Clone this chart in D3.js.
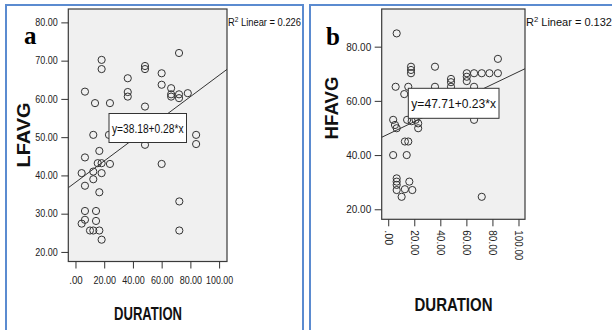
<!DOCTYPE html>
<html>
<head>
<meta charset="utf-8">
<script src="https://cdn.jsdelivr.net/npm/d3@7"></script>
<style>
  body { margin: 0; background: #fff; }
  svg { display: block; }
  .tick text { font-family: "Liberation Sans Narrow", "Arial Narrow", "Liberation Sans", sans-serif; fill: #222; }
  .tick line { stroke: #333; }
</style>
</head>
<body>
<svg id="chart" width="612" height="330"></svg>
<script>
// panel a: DURATION vs LFAVG
var durationA = [6.6, 18.2, 18.2, 13.6, 24, 36.4, 36.4, 36.4, 48.4, 48.4, 60, 60, 66.6, 66.6, 66.6,
  72.1, 72.1, 72.1, 78.2, 48.4, 12.4, 23.3, 84, 84, 48.4, 16.6, 6.6, 15.5, 18.2, 24, 18.2, 12.4,
  12.4, 4.3, 6.6, 16.6, 60, 72.3, 72.3, 6.6, 6.6, 4.3, 14.3, 14.3, 10.1, 12.4, 16.6, 18.2];
var lfavg = [61.9, 70.2, 67.8, 58.9, 58.9, 65.4, 61.8, 60.6, 68.6, 67.8, 66.7, 63.7, 62.8, 61.2, 60.6,
  72, 61.2, 60.2, 61.5, 58, 50.6, 50.6, 50.6, 48.2, 48, 46.4, 44.7, 43.2, 43.2, 43, 40.6, 41,
  39, 40.6, 37.3, 35.6, 43, 33.2, 25.6, 30.7, 28.4, 27.4, 30.7, 28.1, 25.6, 25.6, 25.6, 23.2];

// panel b: DURATION vs HFAVG
var durationB = [6.5, 17.5, 17.5, 17.5, 35.9, 5.7, 15.4, 12.3, 35.9, 48.2, 48.2, 48.2, 60.3, 60.3, 60.3,
  65.9, 71.8, 77.7, 84.2, 84.2, 65.9, 65.9, 3.8, 14.5, 18, 21, 5.2, 6.5, 23, 23, 12.8, 15.4,
  3.8, 14.2, 6.5, 6.5, 6.5, 6.5, 10.3, 12.8, 16.2, 18.5, 71.8];
var hfavg = [84.9, 72.6, 71.4, 70.2, 72.6, 65.2, 65.2, 62.5, 65.2, 68.1, 66.9, 65.2, 70.2, 68.9, 67.3,
  70.2, 70.2, 70.2, 70.2, 75.5, 65.2, 53, 53, 53, 52.5, 53, 51.1, 49.9, 51.7, 49.9, 45, 45,
  40, 40, 31.4, 30.2, 29, 27.1, 24.6, 27.4, 30.2, 27.1, 24.6];

var xTicks = [0, 20, 40, 60, 80, 100];
var yTicks = [20, 30, 40, 50, 60, 70, 80];
var yTicksB = [20, 40, 60, 80];
var fitA = { a: 38.18, b: 0.28, r2: "0.226" };
var fitB = { a: 47.71, b: 0.23, r2: "0.132" };

var svg = d3.select("#chart");
var fmt = function(d) { return d === 0 ? ".00" : d.toFixed(2); };

// light blue frames around each panel
svg.append("rect").attr("x", 6).attr("y", 5).attr("width", 297).attr("height", 340)
  .attr("fill", "none").attr("stroke", "#5b8bd0").attr("stroke-width", 2);
svg.append("rect").attr("x", 310).attr("y", 5).attr("width", 320).attr("height", 340)
  .attr("fill", "none").attr("stroke", "#5b8bd0").attr("stroke-width", 2);

function drawPanel(p) {
  var g = svg.append("g");
  var x = d3.scaleLinear().domain(p.xDomain).range([p.left, p.right]);
  var y = d3.scaleLinear().domain(p.yDomain).range([p.bottom, p.top]);
  var clipId = "clip-" + p.id;

  g.append("clipPath").attr("id", clipId).append("rect")
    .attr("x", p.left).attr("y", p.top)
    .attr("width", p.right - p.left).attr("height", p.bottom - p.top);

  g.append("rect")
    .attr("x", p.left).attr("y", p.top)
    .attr("width", p.right - p.left).attr("height", p.bottom - p.top)
    .attr("fill", "#f0f0f0").attr("stroke", "#3a3a3a").attr("stroke-width", 1.2);

  // axes
  var yAxis = g.append("g").attr("transform", "translate(" + p.left + ",0)")
    .call(d3.axisLeft(y).tickValues(p.yTicks).tickFormat(fmt).tickSize(7).tickSizeOuter(0));
  yAxis.select(".domain").remove();
  yAxis.selectAll("text").attr("font-size", p.tickFont).attr("dx", "-0.5")
    .attr("textLength", function(d) { return fmt(d).length * p.charW; })
    .attr("lengthAdjust", "spacingAndGlyphs");

  var xAxis = g.append("g").attr("transform", "translate(0," + p.bottom + ")")
    .call(d3.axisBottom(x).tickValues(xTicks).tickFormat(fmt).tickSize(7).tickSizeOuter(0));
  xAxis.select(".domain").remove();
  var xt = xAxis.selectAll("text").attr("font-size", p.tickFont)
    .attr("textLength", function(d) { return fmt(d).length * p.charW; })
    .attr("lengthAdjust", "spacingAndGlyphs");
  if (p.rotateX) {
    xt.attr("transform", "rotate(90)").attr("text-anchor", "start")
      .attr("x", 11).attr("y", 0).attr("dy", "0.35em");
  } else {
    xt.attr("dy", "1.2em");
  }

  // fit line
  g.append("line")
    .attr("clip-path", "url(#" + clipId + ")")
    .attr("x1", x(p.xDomain[0])).attr("y1", y(p.fit.a + p.fit.b * p.xDomain[0]))
    .attr("x2", x(p.xDomain[1])).attr("y2", y(p.fit.a + p.fit.b * p.xDomain[1]))
    .attr("stroke", "#333").attr("stroke-width", 1);

  // points
  g.append("g").selectAll("circle")
    .data(p.xs.map(function(v, i) { return [v, p.ys[i]]; }))
    .enter().append("circle")
    .attr("cx", function(d) { return x(d[0]); })
    .attr("cy", function(d) { return y(d[1]); })
    .attr("r", 3.6)
    .attr("fill", "none").attr("stroke", "#333").attr("stroke-width", 1);

  // equation box
  g.append("rect")
    .attr("x", p.box[0]).attr("y", p.box[1]).attr("width", p.box[2]).attr("height", p.box[3])
    .attr("fill", "#fff").attr("stroke", "#333").attr("stroke-width", 1);
  g.append("text")
    .attr("x", p.box[0] + p.box[2] / 2).attr("y", p.box[1] + p.box[3] / 2 + 4.5)
    .attr("text-anchor", "middle")
    .attr("font-family", "Liberation Sans, sans-serif").attr("font-size", p.eqFont)
    .attr("textLength", p.box[2] - 6).attr("lengthAdjust", "spacingAndGlyphs")
    .attr("fill", "#111")
    .text("y=" + p.fit.a.toFixed(2) + "+" + p.fit.b.toFixed(2) + "*x");

  // R2 label
  var r2 = g.append("text")
    .attr("x", p.right + 1).attr("y", 26)
    .attr("font-family", "Liberation Sans, sans-serif").attr("font-size", p.r2Font)
    .attr("textLength", p.r2Len).attr("lengthAdjust", "spacingAndGlyphs")
    .attr("fill", "#111");
  r2.append("tspan").text("R");
  r2.append("tspan").attr("dy", -4).attr("font-size", p.r2Font * 0.7).text("2");
  r2.append("tspan").attr("dy", 4).text(" Linear = " + p.fit.r2);

  // axis titles
  g.append("text")
    .attr("x", p.xTitle[0]).attr("y", p.xTitle[1])
    .attr("text-anchor", "middle")
    .attr("font-family", "Liberation Sans, sans-serif").attr("font-weight", "bold")
    .attr("font-size", p.titleFont)
    .attr("textLength", p.xTitleLen).attr("lengthAdjust", "spacingAndGlyphs")
    .attr("fill", "#111").text("DURATION");
  g.append("text")
    .attr("transform", "translate(" + p.yTitle[0] + "," + p.yTitle[1] + ") rotate(-90)")
    .attr("text-anchor", "middle")
    .attr("font-family", "Liberation Sans, sans-serif").attr("font-weight", "bold")
    .attr("font-size", p.titleFont)
    .attr("textLength", p.yTitleLen).attr("lengthAdjust", "spacingAndGlyphs")
    .attr("fill", "#111").text(p.yName);

  // panel letter
  g.append("text")
    .attr("x", p.letter[0]).attr("y", p.letter[1])
    .attr("font-family", "Liberation Serif, serif").attr("font-weight", "bold")
    .attr("font-size", 25).attr("fill", "#000").text(p.id);
}

drawPanel({
  id: "a", xs: durationA, ys: lfavg, fit: fitA, yName: "LFAVG", yTicks: yTicks,
  xDomain: [-5, 105.5], yDomain: [17.5, 83.5],
  left: 68.3, right: 227, top: 9, bottom: 261.5,
  tickFont: 10, charW: 4.5, eqFont: 12, r2Font: 10, r2Len: 73, titleFont: 18,
  box: [109, 113.5, 77.5, 29], xTitle: [148, 320], xTitleLen: 68,
  yTitle: [30, 135], yTitleLen: 65, letter: [24, 44], rotateX: false
});

drawPanel({
  id: "b", xs: durationB, ys: hfavg, fit: fitB, yName: "HFAVG", yTicks: yTicksB,
  xDomain: [-5, 105], yDomain: [16.3, 93.9],
  left: 381.7, right: 525, top: 9, bottom: 219.3,
  tickFont: 11, charW: 5, eqFont: 13, r2Font: 11, r2Len: 86, titleFont: 19,
  box: [408.3, 88.3, 90.7, 30], xTitle: [453.5, 311], xTitleLen: 78,
  yTitle: [338, 108], yTitleLen: 63, letter: [326, 45], rotateX: true
});
</script>
</body>
</html>
